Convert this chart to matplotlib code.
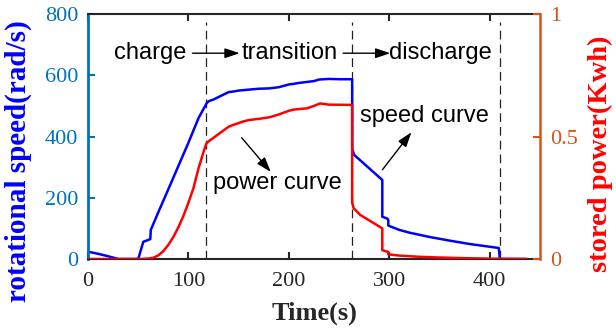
import numpy as np
import matplotlib.pyplot as plt

plt.rcParams['font.family'] = ['Liberation Serif', 'DejaVu Serif']

# speed curve (left axis, rad/s)
t_speed = [0, 10, 20, 28, 30, 50, 55, 62, 62.5, 70, 80, 90, 100, 105, 110,
           115, 118, 120, 125, 130, 135, 140, 145, 150, 160, 170, 180, 190,
           200, 205, 210, 220, 225, 230, 240, 250, 263, 263, 265, 280, 293,
           293, 298, 299, 299, 310, 320, 340, 360, 380, 400, 409, 410, 436]
speed = [24, 17, 9, 2, 0, 0, 56, 65, 95, 153, 228, 304, 380, 420, 460,
         490, 508, 515, 521, 529, 537, 545, 547, 550, 553, 556, 557, 561,
         570, 572, 575, 579, 581, 586, 588, 587, 587, 360, 340, 296, 258,
         138, 132, 127, 109, 95, 86, 72, 60, 49, 40, 36, 0, 0]

# stored power curve (right axis, Kwh)
t_power = [0, 52, 60, 65, 70, 75, 80, 85, 90, 95, 100, 105, 110, 113, 116,
           118, 120, 125, 130, 135, 140, 145, 150, 155, 160, 170, 180, 190,
           200, 205, 210, 218, 225, 231, 240, 263, 263, 264.5, 271, 293, 293,
           298, 299, 299, 310, 330, 350, 380, 410, 436]
power = [0, 0, 0.002, 0.005, 0.015, 0.032, 0.058, 0.09, 0.13, 0.176, 0.23,
         0.29, 0.37, 0.41, 0.45, 0.472, 0.48, 0.495, 0.51, 0.525, 0.54,
         0.548, 0.555, 0.562, 0.567, 0.572, 0.578, 0.59, 0.605, 0.61, 0.612,
         0.615, 0.625, 0.635, 0.63, 0.629, 0.23, 0.207, 0.18, 0.125, 0.036,
         0.03, 0.028, 0.019, 0.014, 0.009, 0.006, 0.003, 0.001, 0]

phase_bounds = [117, 263, 410]
phase_top = 775
phase_names = ['charge', 'transition', 'discharge']
phase_x = [62, 201, 351]
phase_y = 672
phase_arrows = [(104, 151), (254, 301)]

left_c = '#0072BD'
right_c = '#D95319'
dark = '#262626'
arrow_kw = dict(arrowstyle='-|>,head_length=0.9,head_width=0.3', color='k',
                lw=1, mutation_scale=10, shrinkA=0, shrinkB=0)

fig = plt.figure(figsize=(6.16, 3.31), dpi=100)
ax1 = fig.add_axes([0.1429, 0.2175, 0.7337, 0.7402])
ax2 = ax1.twinx()

ax1.vlines(phase_bounds, 0, phase_top, colors='#222222', linestyles=(0, (7, 4)), lw=0.9)
ax1.plot(t_speed, speed, color='b', lw=1.8)
ax2.plot(t_power, power, color='r', lw=1.8)

ax1.set_xlim(0, 450)
ax1.set_ylim(0, 800)
ax2.set_ylim(0, 1)
ax1.set_xticks([0, 100, 200, 300, 400])
ax1.set_yticks(np.arange(0, 801, 200))
ax2.set_yticks([0, 0.5, 1])
ax2.set_yticklabels(['0', '0.5', '1'])

for sp in ['top', 'bottom']:
    ax1.spines[sp].set_color(dark)
    ax1.spines[sp].set_linewidth(1.5)
    ax2.spines[sp].set_visible(False)
ax1.spines['left'].set_color(left_c)
ax1.spines['left'].set_linewidth(2)
ax1.spines['right'].set_visible(False)
ax2.spines['left'].set_visible(False)
ax2.spines['right'].set_color(right_c)
ax2.spines['right'].set_linewidth(1.8)

ax1.tick_params(axis='x', direction='in', top=True, length=5, width=1.5,
                color=dark, labelcolor=dark, labelsize=16, pad=9)
ax1.tick_params(axis='y', direction='in', length=5, width=1.5,
                color=left_c, labelcolor=left_c, labelsize=16, pad=7)
ax2.tick_params(axis='y', direction='in', length=5, width=1.5,
                color=right_c, labelcolor=right_c, labelsize=16, pad=7)

ax1.set_xlabel('Time(s)', fontsize=19, fontweight='bold', color=dark)
ax1.xaxis.set_label_coords(0.5, -0.172)
ax1.set_ylabel('rotational speed(rad/s)', fontsize=21, fontweight='bold', color='b')
ax1.yaxis.set_label_coords(-0.125, 0.40)
ax2.set_ylabel('stored power(Kwh)', fontsize=20.5, fontweight='bold', color='r')
ax2.yaxis.set_label_coords(1.106, 0.43)

sans = ['Liberation Sans', 'DejaVu Sans']
for name, x in zip(phase_names, phase_x):
    ax1.text(x, phase_y, name, fontsize=17, family=sans, ha='center', va='center')
for x0, x1 in phase_arrows:
    ax1.annotate('', xy=(x1, phase_y), xytext=(x0, phase_y), arrowprops=arrow_kw)

ax1.text(189, 248, 'power curve', fontsize=17, family=sans, ha='center', va='center')
ax1.annotate('', xy=(182, 284), xytext=(153, 396), arrowprops=arrow_kw)
ax1.text(335, 467, 'speed curve', fontsize=17, family=sans, ha='center', va='center')
ax1.annotate('', xy=(322, 414), xytext=(293, 291), arrowprops=arrow_kw)

fig.savefig('out.png', dpi=100)
